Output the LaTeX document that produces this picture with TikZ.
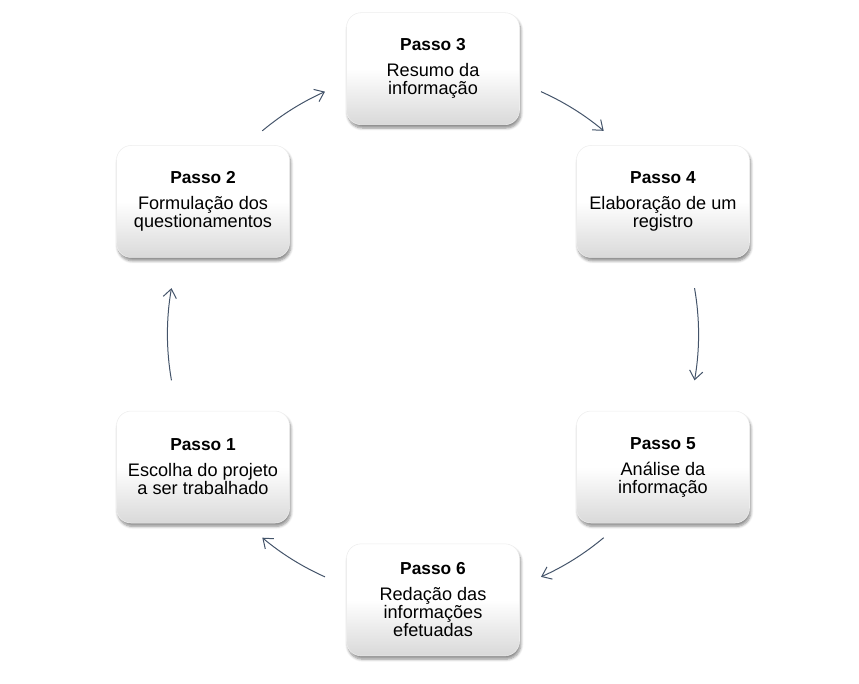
\documentclass[tikz,border=0pt]{standalone}
\usepackage{fontspec}
\setmainfont{Liberation Sans}
\usetikzlibrary{arrows.meta,shadows.blur}
\definecolor{setacor}{HTML}{44546A}
\begin{document}
\begin{tikzpicture}[
    passo/.style={rounded corners=11pt, minimum width=129.75pt, minimum height=84pt,
      top color=white, bottom color=black!15, middle color=white, draw=black!7,
      line width=0.4pt,
      blur shadow={shadow xshift=1pt, shadow yshift=-2.5pt, shadow blur steps=6,
        shadow blur radius=2pt, shadow opacity=45},
      align=center, inner sep=2pt, font=\fontsize{13.6}{13.5}\selectfont},
    seta/.style={draw=setacor, line width=0.75pt, -{Straight Barb[length=6.5pt,width=10pt]}}
  ]
    \useasboundingbox (-324.75pt,-262.3pt) rectangle (319.5pt,250.7pt);

    \foreach \ang/\n/\txt in {-150/1/{Escolha do projeto\\a ser trabalhado},
        150/2/{Formulação dos\\questionamentos}, 90/3/{Resumo da\\informação},
        30/4/{Elaboração de um\\registro}, -30/5/{Análise da\\informação},
        -90/6/{Redação das\\informações\\efetuadas}}{
        \node[passo] (passo\n) at (\ang:7cm) {{\fontsize{13}{13.5}\selectfont\textbf{Passo \n}}\\[6pt]\txt};
      }

    \foreach \a/\b/\n in {190/170/1, 130/114/2, 66/50/3, 10/-10/4, -50/-66/5, -114/-130/6}{
        \coordinate (seta\n) at (\a:7cm);
        \draw[seta] (seta\n) arc[start angle=\a, end angle=\b, radius=7cm];
      }
\end{tikzpicture}
\end{document}
